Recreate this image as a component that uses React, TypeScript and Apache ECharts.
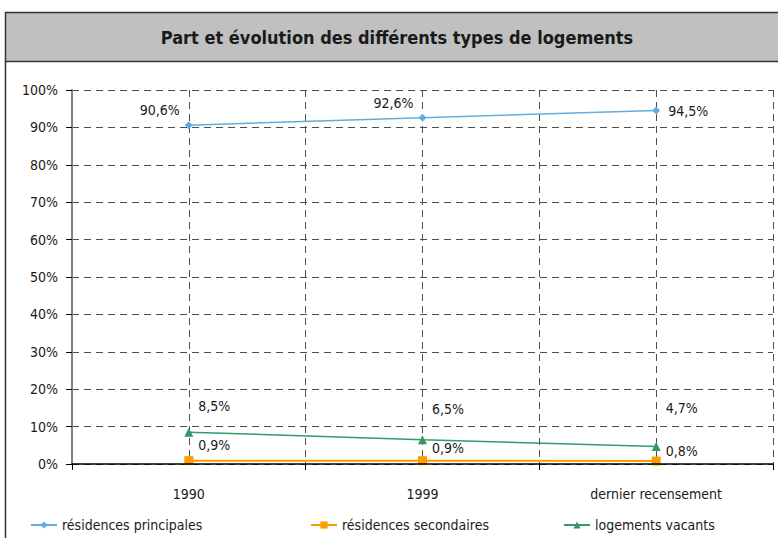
import React, { useEffect, useRef } from "react";
import * as echarts from "echarts";

const categories = ["1990", "1999", "dernier recensement"];
const residencesPrincipales = [90.6, 92.6, 94.5];
const residencesSecondaires = [0.9, 0.9, 0.8];
const logementsVacants = [8.5, 6.5, 4.7];
const seriesNames = ["résidences principales", "résidences secondaires", "logements vacants"];
const titleText = "Part et évolution des différents types de logements";

const FONT = "'DejaVu Sans Condensed', 'Liberation Sans Narrow', sans-serif";

const fmt = (v: number) => String(v).replace(".", ",") + "%";

export default function App() {
  const ref = useRef<HTMLDivElement>(null);
  useEffect(() => {
    if (!ref.current) return;
    const chart = echarts.init(ref.current, null, { renderer: "svg" });
    const gridLine = { show: true, lineStyle: { color: "#4d4d4d", type: [7, 5] as any, width: 1 } };
    const blueLabelPos = [
      { position: "left", distance: 5, offset: [0, -15] },
      { position: "left", distance: 5, offset: [0, -15] },
      { position: "right", distance: 8, offset: [0, 0] },
    ];
    const greenOffsets = [[0, -26], [0, -31], [0, -38]];
    const orangeOffsets = [[0, -16], [0, -13], [0, -10]];
    const legendLefts = [30, 310, 563];
    chart.setOption({
      animation: false,
      textStyle: { fontFamily: FONT },
      graphic: [
        {
          type: "rect",
          shape: { x: 5.5, y: 12.5, width: 790, height: 49 },
          style: { fill: "#c0c0c0", stroke: "#333", lineWidth: 1.5 },
          z: 0,
        },
        {
          type: "line",
          shape: { x1: 5.5, y1: 61, x2: 5.5, y2: 540 },
          style: { stroke: "#333", lineWidth: 1.5 },
        },
        {
          type: "text",
          x: 397,
          y: 37,
          style: {
            text: titleText,
            fontFamily: FONT,
            fontWeight: "bold",
            fontSize: 18,
            fill: "#1a1a1a",
            textAlign: "center",
            textVerticalAlign: "middle",
          },
        },
      ],
      grid: { left: 72, right: 5, top: 90, bottom: 74, containLabel: false },
      legend: seriesNames.map((n, i) => ({
        bottom: 6,
        left: legendLefts[i],
        padding: 0,
        itemWidth: 26,
        itemHeight: 9,
        data: [n],
        textStyle: { fontFamily: FONT, fontSize: 14, color: "#1a1a1a" },
      })),
      xAxis: [
        {
          type: "category",
          data: categories,
          boundaryGap: true,
          axisLine: { lineStyle: { color: "#000", width: 1.5 } },
          axisTick: { show: true, length: 6, lineStyle: { color: "#000" } },
          axisLabel: { margin: 23, fontFamily: FONT, fontSize: 14, color: "#1a1a1a" },
          splitLine: { show: false },
          z: 5,
        },
        {
          type: "category",
          data: ["a", "b", "c", "d", "e", "f"],
          boundaryGap: true,
          position: "bottom",
          axisLine: { show: false },
          axisTick: { show: false },
          axisLabel: { show: false },
          splitLine: { ...gridLine, interval: 0 },
        },
      ],
      yAxis: {
        type: "value",
        min: 0,
        max: 100,
        interval: 10,
        axisLine: { show: true, lineStyle: { color: "#808080", width: 2 } },
        axisTick: { show: true, length: 6, lineStyle: { color: "#000" } },
        axisLabel: { formatter: (v: number) => v + "%", margin: 14, fontFamily: FONT, fontSize: 14, color: "#1a1a1a" },
        splitLine: gridLine,
      },
      series: [
        {
          name: seriesNames[0],
          type: "line",
          data: residencesPrincipales.map((v, i) => ({ value: v, label: blueLabelPos[i] })),
          symbol: "diamond",
          symbolSize: 8,
          itemStyle: { color: "#63acdf" },
          lineStyle: { color: "#63acdf", width: 1.5 },
          label: { show: true, formatter: (p: any) => fmt(p.value), fontFamily: FONT, fontSize: 14, color: "#1a1a1a" },
          z: 4,
        },
        {
          name: seriesNames[1],
          type: "line",
          data: residencesSecondaires.map((v, i) => ({ value: v, label: { offset: orangeOffsets[i] } })),
          symbol: "rect",
          symbolSize: 9,
          itemStyle: { color: "#ff9c00" },
          lineStyle: { color: "#ff9c00", width: 2 },
          label: { show: true, position: "right", distance: 5, formatter: (p: any) => fmt(p.value), fontFamily: FONT, fontSize: 14, color: "#1a1a1a" },
          z: 4,
        },
        {
          name: seriesNames[2],
          type: "line",
          data: logementsVacants.map((v, i) => ({ value: v, label: { offset: greenOffsets[i] } })),
          symbol: "triangle",
          symbolSize: 9,
          itemStyle: { color: "#339966" },
          lineStyle: { color: "#339966", width: 1.5 },
          label: { show: true, position: "right", distance: 5, formatter: (p: any) => fmt(p.value), fontFamily: FONT, fontSize: 14, color: "#1a1a1a" },
          z: 4,
        },
      ],
    });
    return () => chart.dispose();
  }, []);
  return (
    <div
      ref={ref}
      style={{ position: "fixed", left: 0, top: 0, width: 778, height: 538, background: "#fff" }}
    />
  );
}
